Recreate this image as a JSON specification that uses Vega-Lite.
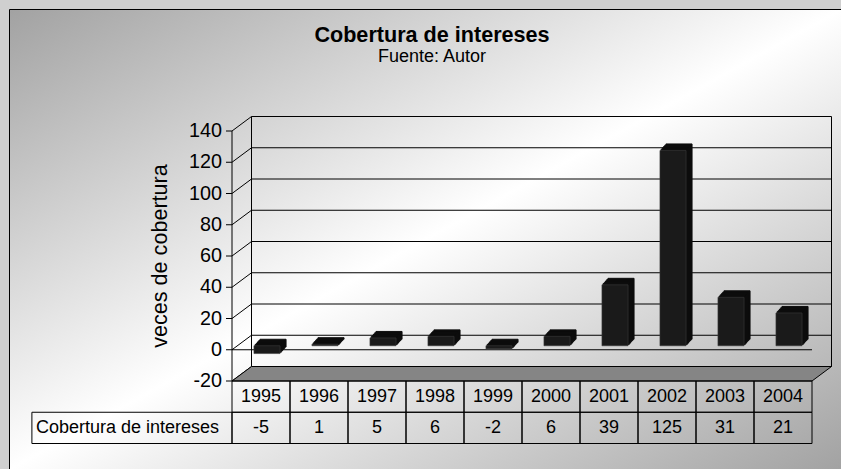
{
  "$schema": "https://vega.github.io/schema/vega-lite/v6.json",
  "width": 832,
  "height": 460,
  "autosize": {"type": "none"},
  "padding": {"left": 9, "top": 9, "right": 0, "bottom": 0},
  "background": "#cfcfcf",
  "view": {
    "fill": {"gradient": "linear", "x1": 0, "y1": 0, "x2": 1, "y2": 1,
      "stops": [{"offset": 0, "color": "#a2a2a2"}, {"offset": 0.5, "color": "#ffffff"}, {"offset": 1, "color": "#a2a2a2"}]},
    "stroke": "black",
    "strokeWidth": 1
  },
  "config": {"font": "Liberation Sans"},
  "title": {
    "text": "Cobertura de intereses",
    "subtitle": "Fuente: Autor",
    "anchor": "middle",
    "frame": "group",
    "font": "Liberation Sans",
    "fontSize": 21.6,
    "fontWeight": "bold",
    "color": "black",
    "subtitleFont": "Liberation Sans",
    "subtitleFontSize": 18,
    "subtitleColor": "black",
    "subtitlePadding": 1,
    "offset": -57,
    "dx": 7
  },
  "datasets": {
    "cobertura": [
      {"year": "1995", "value": -5},
      {"year": "1996", "value": 1},
      {"year": "1997", "value": 5},
      {"year": "1998", "value": 6},
      {"year": "1999", "value": -2},
      {"year": "2000", "value": 6},
      {"year": "2001", "value": 39},
      {"year": "2002", "value": 125},
      {"year": "2003", "value": 31},
      {"year": "2004", "value": 21}
    ],
    "ticks": [{"v": -20}, {"v": 0}, {"v": 20}, {"v": 40}, {"v": 60}, {"v": 80}, {"v": 100}, {"v": 120}, {"v": 140}],
    "one": [{"label": "Cobertura de intereses", "axisTitle": "veces de cobertura"}]
  },
  "resolve": {"scale": {"x": "independent"}},
  "layer": [
    {
      "layer": [
        {
          "data": {"name": "ticks"},
          "mark": {"type": "rule", "color": "black", "strokeWidth": 1, "xOffset": 19.5, "x2Offset": 19.5, "yOffset": -14.5},
          "encoding": {
            "x": {"datum": 0, "type": "quantitative", "scale": {"domain": [0, 10], "range": [223, 803]}, "axis": null},
            "x2": {"datum": 10},
            "y": {"field": "v", "type": "quantitative", "scale": {"domain": [-20, 140], "range": [372, 122], "nice": false, "zero": false}, "axis": null}
          }
        },
        {
          "data": {"name": "ticks"},
          "mark": {"type": "rule", "color": "black", "strokeWidth": 1, "x2Offset": 19.5, "y2Offset": -14.5},
          "encoding": {
            "x": {"datum": 0, "type": "quantitative", "scale": {"domain": [0, 10], "range": [223, 803]}, "axis": null},
            "x2": {"datum": 0},
            "y": {"field": "v", "type": "quantitative", "scale": {"domain": [-20, 140], "range": [372, 122], "nice": false, "zero": false}, "axis": null},
            "y2": {"field": "v"}
          }
        },
        {
          "data": {"name": "ticks"},
          "mark": {"type": "rule", "color": "black", "strokeWidth": 1, "xOffset": -6},
          "encoding": {
            "x": {"datum": 0, "type": "quantitative", "scale": {"domain": [0, 10], "range": [223, 803]}, "axis": null},
            "x2": {"datum": 0},
            "y": {"field": "v", "type": "quantitative", "scale": {"domain": [-20, 140], "range": [372, 122], "nice": false, "zero": false}, "axis": null}
          }
        },
        {
          "data": {"name": "ticks"},
          "mark": {"type": "text", "align": "right", "baseline": "middle", "dx": -10, "font": "Liberation Sans", "fontSize": 19.8, "color": "black"},
          "encoding": {
            "x": {"datum": 0, "type": "quantitative", "scale": {"domain": [0, 10], "range": [223, 803]}, "axis": null},
            "y": {"field": "v", "type": "quantitative", "scale": {"domain": [-20, 140], "range": [372, 122], "nice": false, "zero": false}, "axis": null},
            "text": {"field": "v"}
          }
        },
        {
          "data": {"name": "one"},
          "mark": {"type": "text", "align": "center", "baseline": "middle", "angle": 270, "xOffset": -71.3, "font": "Liberation Sans", "fontSize": 21.6, "color": "black"},
          "encoding": {
            "x": {"datum": 0, "type": "quantitative", "scale": {"domain": [0, 10], "range": [223, 803]}, "axis": null},
            "y": {"datum": 60, "type": "quantitative", "scale": {"domain": [-20, 140], "range": [372, 122], "nice": false, "zero": false}, "axis": null},
            "text": {"field": "axisTitle"}
          }
        },
        {
          "data": {"name": "one"},
          "mark": {"type": "rule", "color": "black", "strokeWidth": 1},
          "encoding": {
            "x": {"datum": 0, "type": "quantitative", "scale": {"domain": [0, 10], "range": [223, 803]}, "axis": null},
            "y": {"datum": 140, "type": "quantitative", "scale": {"domain": [-20, 140], "range": [372, 122], "nice": false, "zero": false}, "axis": null},
            "y2": {"datum": -20}
          }
        },
        {
          "data": {"name": "one"},
          "mark": {"type": "rule", "color": "black", "strokeWidth": 1, "xOffset": 19.5, "yOffset": -14.5, "y2Offset": -14.5},
          "encoding": {
            "x": {"datum": 0, "type": "quantitative", "scale": {"domain": [0, 10], "range": [223, 803]}, "axis": null},
            "y": {"datum": 140, "type": "quantitative", "scale": {"domain": [-20, 140], "range": [372, 122], "nice": false, "zero": false}, "axis": null},
            "y2": {"datum": -20}
          }
        },
        {
          "data": {"name": "one"},
          "mark": {"type": "rule", "color": "black", "strokeWidth": 1, "xOffset": 19.5, "yOffset": -14.5, "y2Offset": -14.5},
          "encoding": {
            "x": {"datum": 10, "type": "quantitative", "scale": {"domain": [0, 10], "range": [223, 803]}, "axis": null},
            "y": {"datum": 140, "type": "quantitative", "scale": {"domain": [-20, 140], "range": [372, 122], "nice": false, "zero": false}, "axis": null},
            "y2": {"datum": -20}
          }
        },
        {
          "data": {"name": "one"},
          "mark": {"type": "point", "shape": "M0,0L580,0L599.5,-14.5L19.5,-14.5Z", "size": 4, "filled": true, "fill": "#858585", "stroke": "black", "strokeWidth": 1, "opacity": 1},
          "encoding": {
            "x": {"datum": 0, "type": "quantitative", "scale": {"domain": [0, 10], "range": [223, 803]}, "axis": null},
            "y": {"datum": -20, "type": "quantitative", "scale": {"domain": [-20, 140], "range": [372, 122], "nice": false, "zero": false}, "axis": null}
          }
        },
        {
          "data": {"name": "one"},
          "mark": {"type": "rule", "color": "black", "strokeWidth": 1},
          "encoding": {
            "x": {"datum": 0, "type": "quantitative", "scale": {"domain": [0, 10], "range": [223, 803]}, "axis": null},
            "x2": {"datum": 10},
            "y": {"datum": 0, "type": "quantitative", "scale": {"domain": [-20, 140], "range": [372, 122], "nice": false, "zero": false}, "axis": null}
          }
        },
        {
          "data": {"name": "one"},
          "mark": {"type": "rect", "fillOpacity": 0, "stroke": "black", "strokeWidth": 1},
          "encoding": {
            "x": {"datum": -3.45, "type": "quantitative", "scale": {"domain": [0, 10], "range": [223, 803]}, "axis": null},
            "x2": {"datum": 0},
            "y": {"datum": -40, "type": "quantitative", "scale": {"domain": [-20, 140], "range": [372, 122], "nice": false, "zero": false}, "axis": null},
            "y2": {"datum": -60}
          }
        },
        {
          "data": {"name": "one"},
          "mark": {"type": "text", "align": "left", "baseline": "middle", "dx": 4, "font": "Liberation Sans", "fontSize": 18, "color": "black"},
          "encoding": {
            "x": {"datum": -3.45, "type": "quantitative", "scale": {"domain": [0, 10], "range": [223, 803]}, "axis": null},
            "y": {"datum": -50, "type": "quantitative", "scale": {"domain": [-20, 140], "range": [372, 122], "nice": false, "zero": false}, "axis": null},
            "text": {"field": "label"}
          }
        }
      ]
    },
    {
      "data": {"name": "cobertura"},
      "encoding": {
        "x": {"field": "year", "type": "nominal", "scale": {"range": [223, 803], "paddingInner": 0, "paddingOuter": 0}, "axis": null}
      },
      "layer": [
        {
          "mark": {"type": "bar", "width": {"band": 0.45}, "fill": "#0d0d0d", "stroke": "#0d0d0d", "strokeWidth": 1, "xOffset": 12, "yOffset": -10.5, "y2Offset": -10.5},
          "encoding": {
            "y": {"field": "value", "type": "quantitative", "scale": {"domain": [-20, 140], "range": [372, 122], "nice": false, "zero": false}, "axis": null},
            "y2": {"datum": 0}
          }
        },
        {
          "mark": {"type": "bar", "width": {"band": 0.45}, "fill": "#0d0d0d", "stroke": "#0d0d0d", "strokeWidth": 1, "xOffset": 10.8, "yOffset": -9.2, "y2Offset": -9.2},
          "encoding": {
            "y": {"field": "value", "type": "quantitative", "scale": {"domain": [-20, 140], "range": [372, 122], "nice": false, "zero": false}, "axis": null},
            "y2": {"datum": 0}
          }
        },
        {
          "mark": {"type": "bar", "width": {"band": 0.45}, "fill": "#0d0d0d", "stroke": "#0d0d0d", "strokeWidth": 1, "xOffset": 9.6, "yOffset": -7.9, "y2Offset": -7.9},
          "encoding": {
            "y": {"field": "value", "type": "quantitative", "scale": {"domain": [-20, 140], "range": [372, 122], "nice": false, "zero": false}, "axis": null},
            "y2": {"datum": 0}
          }
        },
        {
          "mark": {"type": "bar", "width": {"band": 0.45}, "fill": "#0d0d0d", "stroke": "#0d0d0d", "strokeWidth": 1, "xOffset": 8.4, "yOffset": -6.6, "y2Offset": -6.6},
          "encoding": {
            "y": {"field": "value", "type": "quantitative", "scale": {"domain": [-20, 140], "range": [372, 122], "nice": false, "zero": false}, "axis": null},
            "y2": {"datum": 0}
          }
        },
        {
          "mark": {"type": "bar", "width": {"band": 0.45}, "fill": "#0d0d0d", "stroke": "#0d0d0d", "strokeWidth": 1, "xOffset": 7.2, "yOffset": -5.3, "y2Offset": -5.3},
          "encoding": {
            "y": {"field": "value", "type": "quantitative", "scale": {"domain": [-20, 140], "range": [372, 122], "nice": false, "zero": false}, "axis": null},
            "y2": {"datum": 0}
          }
        },
        {
          "mark": {"type": "bar", "width": {"band": 0.45}, "fill": "#1a1a1a", "stroke": "#3a3a3a", "strokeWidth": 0.6, "xOffset": 6, "yOffset": -4, "y2Offset": -4},
          "encoding": {
            "y": {"field": "value", "type": "quantitative", "scale": {"domain": [-20, 140], "range": [372, 122], "nice": false, "zero": false}, "axis": null},
            "y2": {"datum": 0}
          }
        },
        {
          "mark": {"type": "rect", "fillOpacity": 0, "stroke": "black", "strokeWidth": 1},
          "encoding": {
            "y": {"datum": -20, "type": "quantitative", "scale": {"domain": [-20, 140], "range": [372, 122], "nice": false, "zero": false}, "axis": null},
            "y2": {"datum": -40}
          }
        },
        {
          "mark": {"type": "rect", "fillOpacity": 0, "stroke": "black", "strokeWidth": 1},
          "encoding": {
            "y": {"datum": -40, "type": "quantitative", "scale": {"domain": [-20, 140], "range": [372, 122], "nice": false, "zero": false}, "axis": null},
            "y2": {"datum": -60}
          }
        },
        {
          "mark": {"type": "text", "align": "center", "baseline": "middle", "font": "Liberation Sans", "fontSize": 18, "color": "black"},
          "encoding": {
            "y": {"datum": -30, "type": "quantitative", "scale": {"domain": [-20, 140], "range": [372, 122], "nice": false, "zero": false}, "axis": null},
            "text": {"field": "year"}
          }
        },
        {
          "mark": {"type": "text", "align": "center", "baseline": "middle", "font": "Liberation Sans", "fontSize": 18, "color": "black"},
          "encoding": {
            "y": {"datum": -50, "type": "quantitative", "scale": {"domain": [-20, 140], "range": [372, 122], "nice": false, "zero": false}, "axis": null},
            "text": {"field": "value"}
          }
        }
      ]
    }
  ]
}
